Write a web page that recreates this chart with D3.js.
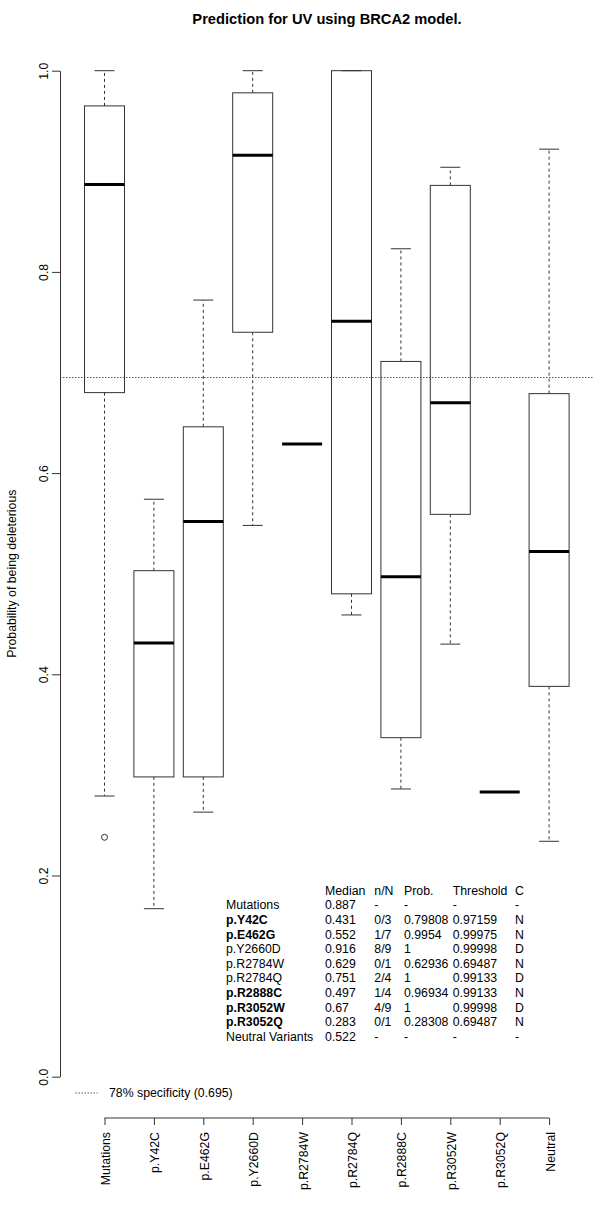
<!DOCTYPE html>
<html>
<head>
<meta charset="utf-8">
<script src="https://cdn.jsdelivr.net/npm/d3@7"></script>
<style>
  html, body { margin: 0; padding: 0; background: #fff; }
  svg { display: block; font-family: "Liberation Sans", Arial, Helvetica, sans-serif; }
</style>
</head>
<body>
<svg id="chart" width="600" height="1221"></svg>
<script>
// ---- data ----
const categories = ["Mutations","p.Y42C","p.E462G","p.Y2660D","p.R2784W","p.R2784Q","p.R2888C","p.R3052W","p.R3052Q","Neutral"];
const lowerWhisker = [0.279, 0.167, 0.263, 0.548, 0.629, 0.459, 0.286, 0.430, 0.283, 0.234];
const q1           = [0.680, 0.298, 0.298, 0.740, 0.629, 0.480, 0.337, 0.559, 0.283, 0.388];
const medians      = [0.887, 0.431, 0.552, 0.916, 0.629, 0.751, 0.497, 0.670, 0.283, 0.522];
const q3           = [0.965, 0.503, 0.646, 0.978, 0.629, 1.000, 0.711, 0.886, 0.283, 0.679];
const upperWhisker = [1.000, 0.574, 0.772, 1.000, 0.629, 1.000, 0.823, 0.904, 0.283, 0.922];
const outlierCats   = ["Mutations"];
const outlierValues = [0.238];
const threshold = 0.695;
const yTicks = [0, 0.2, 0.4, 0.6, 0.8, 1.0];

const tableHeader   = ["Median","n/N","Prob.","Threshold","C"];
const tableLabels   = ["Mutations","p.Y42C","p.E462G","p.Y2660D","p.R2784W","p.R2784Q","p.R2888C","p.R3052W","p.R3052Q","Neutral Variants"];
const tableBold     = [false,true,true,false,false,false,true,true,true,false];
const tableMedian   = ["0.887","0.431","0.552","0.916","0.629","0.751","0.497","0.67","0.283","0.522"];
const tableNN       = ["-","0/3","1/7","8/9","0/1","2/4","1/4","4/9","0/1","-"];
const tableProb     = ["-","0.79808","0.9954","1","0.62936","1","0.96934","1","0.28308","-"];
const tableThresh   = ["-","0.97159","0.99975","0.99998","0.69487","0.99133","0.99133","0.99998","0.69487","-"];
const tableCall     = ["-","N","N","D","N","D","N","D","N","-"];

// ---- layout ----
const svg = d3.select("#chart");
const FS = 12.3;
const plotLeft = 60, plotRight = 594;
const x = d3.scalePoint().domain(categories).range([104.5, 549.1]);
const y = d3.scaleLinear().domain([0, 1]).range([1076.7, 70.7]);
const boxW = 40, capW = 20;
const stroke = "#333";

// title
svg.append("text")
  .attr("x", (plotLeft + plotRight) / 2).attr("y", 23.5)
  .attr("text-anchor", "middle")
  .attr("font-weight", "bold").attr("font-size", 14.7)
  .text("Prediction for UV using BRCA2 model.");

// threshold line
svg.append("line")
  .attr("x1", plotLeft).attr("x2", plotRight)
  .attr("y1", y(threshold)).attr("y2", y(threshold))
  .attr("stroke", "#555").attr("stroke-width", 1)
  .attr("stroke-dasharray", "1.5,1.5");

// boxes
const idx = d3.range(categories.length);
const g = svg.append("g");
const bx = g.selectAll("g.box").data(idx).join("g").attr("class", "box");

// whiskers (dashed)
bx.append("line")
  .attr("x1", i => x(categories[i])).attr("x2", i => x(categories[i]))
  .attr("y1", i => y(q3[i])).attr("y2", i => y(upperWhisker[i]))
  .attr("stroke", stroke).attr("stroke-dasharray", "3,3");
bx.append("line")
  .attr("x1", i => x(categories[i])).attr("x2", i => x(categories[i]))
  .attr("y1", i => y(q1[i])).attr("y2", i => y(lowerWhisker[i]))
  .attr("stroke", stroke).attr("stroke-dasharray", "3,3");
// caps
bx.append("line")
  .attr("x1", i => x(categories[i]) - capW / 2).attr("x2", i => x(categories[i]) + capW / 2)
  .attr("y1", i => y(upperWhisker[i])).attr("y2", i => y(upperWhisker[i]))
  .attr("stroke", stroke);
bx.append("line")
  .attr("x1", i => x(categories[i]) - capW / 2).attr("x2", i => x(categories[i]) + capW / 2)
  .attr("y1", i => y(lowerWhisker[i])).attr("y2", i => y(lowerWhisker[i]))
  .attr("stroke", stroke);
// box
bx.append("rect")
  .attr("x", i => x(categories[i]) - boxW / 2)
  .attr("width", boxW)
  .attr("y", i => y(q3[i]))
  .attr("height", i => Math.max(0, y(q1[i]) - y(q3[i])))
  .attr("fill", "none").attr("stroke", stroke).attr("stroke-width", 1);
// median
bx.append("line")
  .attr("x1", i => x(categories[i]) - boxW / 2).attr("x2", i => x(categories[i]) + boxW / 2)
  .attr("y1", i => y(medians[i])).attr("y2", i => y(medians[i]))
  .attr("stroke", "#000").attr("stroke-width", 3);

// outliers
g.selectAll("circle.out").data(d3.range(outlierCats.length)).join("circle")
  .attr("class", "out")
  .attr("cx", i => x(outlierCats[i])).attr("cy", i => y(outlierValues[i]))
  .attr("r", 3).attr("fill", "none").attr("stroke", stroke);

// y axis
const yAxis = svg.append("g").attr("transform", `translate(${plotLeft},0)`)
  .call(d3.axisLeft(y).tickValues(yTicks).tickSize(8).tickSizeOuter(0).tickFormat(d3.format(".1f")));
yAxis.select(".domain").attr("stroke", stroke);
yAxis.selectAll(".tick line").attr("stroke", stroke);
yAxis.selectAll(".tick text")
  .attr("font-size", FS).attr("font-family", null).attr("fill", "#000")
  .attr("x", null).attr("dy", null)
  .attr("text-anchor", "middle")
  .attr("transform", "translate(-16,0) rotate(-90)")
  .attr("dominant-baseline", "central");

// y label
svg.append("text")
  .attr("transform", `translate(12,${(y(1.04) + y(-0.04)) / 2}) rotate(-90)`)
  .attr("text-anchor", "middle").attr("dominant-baseline", "central")
  .attr("font-size", FS)
  .text("Probability of being deleterious");

// x axis
const xAxis = svg.append("g").attr("transform", "translate(0,1118)")
  .call(d3.axisBottom(x).tickSize(7).tickSizeOuter(0).tickPadding(7));
xAxis.select(".domain").attr("stroke", stroke).attr("d", `M${x(categories[0])},0H${x(categories[categories.length-1])}`);
xAxis.selectAll(".tick line").attr("stroke", stroke);
xAxis.selectAll(".tick text")
  .attr("font-size", FS).attr("font-family", null).attr("fill", "#000")
  .attr("y", null).attr("dy", null)
  .attr("text-anchor", "end")
  .attr("dominant-baseline", "central")
  .attr("transform", "translate(1,14) rotate(-90)");

// legend
const legY = 1093;
svg.append("line").attr("x1", 75.5).attr("x2", 97.5).attr("y1", legY).attr("y2", legY)
  .attr("stroke", "#555").attr("stroke-dasharray", "1.5,1.5");
svg.append("text").attr("x", 109).attr("y", legY).attr("dominant-baseline", "central")
  .attr("font-size", FS).text("78% specificity (0.695)");

// table
const colX = [226, 325, 374.3, 404, 452.7, 515];
const rowY0 = 890.7, rowH = 14.6;
const tg = svg.append("g").attr("font-size", FS);
tableHeader.forEach((h, j) => {
  tg.append("text").attr("x", colX[j + 1]).attr("y", rowY0).attr("dominant-baseline", "central").text(h);
});
tableLabels.forEach((lab, i) => {
  const yy = rowY0 + rowH * (i + 1);
  tg.append("text").attr("x", colX[0]).attr("y", yy).attr("dominant-baseline", "central")
    .attr("font-weight", tableBold[i] ? "bold" : null).text(lab);
  [tableMedian[i], tableNN[i], tableProb[i], tableThresh[i], tableCall[i]].forEach((v, j) => {
    tg.append("text").attr("x", colX[j + 1]).attr("y", yy).attr("dominant-baseline", "central").text(v);
  });
});
</script>
</body>
</html>
